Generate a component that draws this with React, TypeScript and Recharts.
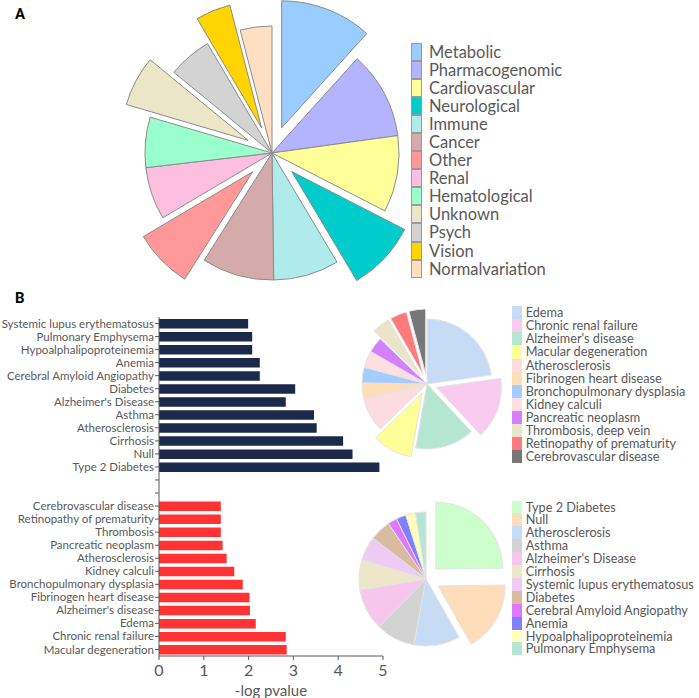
import { Bar, BarChart, Cell, Pie, PieChart, Sector, XAxis, YAxis } from 'recharts';

// Panel A: categories of associated diseases
const catNames = [
  'Metabolic', 'Pharmacogenomic', 'Cardiovascular', 'Neurological', 'Immune', 'Cancer',
  'Other', 'Renal', 'Hematological', 'Unknown', 'Psych', 'Vision', 'Normalvariation',
];
const catValues = [42, 40, 35, 32, 30, 33, 27, 24, 23, 23, 20, 16, 14.5];
const catColors = [
  '#99CCFF', '#B3B3FF', '#FFFF99', '#00CCCC', '#AFEBEB', '#D4AAAA', '#FF9999',
  '#FDBFE0', '#99FFCC', '#ECE6C9', '#D3D3D3', '#FFD400', '#FFDFC2',
];
const catExploded = ['Metabolic', 'Neurological', 'Other', 'Unknown', 'Vision'];

// Panel B: enrichment bars
const topDiseases = [
  'Systemic lupus erythematosus', 'Pulmonary Emphysema', 'Hypoalphalipoproteinemia', 'Anemia',
  'Cerebral Amyloid Angiopathy', 'Diabetes', "Alzheimer's Disease", 'Asthma', 'Atherosclerosis',
  'Cirrhosis', 'Null', 'Type 2 Diabetes',
];
const topValues = [1.99, 2.08, 2.08, 2.25, 2.25, 3.04, 2.83, 3.46, 3.52, 4.11, 4.32, 4.92];
const bottomDiseases = [
  'Cerebrovascular disease', 'Retinopathy of prematurity', 'Thrombosis', 'Pancreatic neoplasm',
  'Atherosclerosis', 'Kidney calculi', 'Bronchopulmonary dysplasia', 'Fibrinogen heart disease',
  "Alzheimer's disease", 'Edema', 'Chronic renal failure', 'Macular degeneration',
];
const bottomValues = [1.38, 1.38, 1.38, 1.42, 1.51, 1.68, 1.87, 2.02, 2.03, 2.16, 2.83, 2.85];
const xTicks = [0, 1, 2, 3, 4, 5];

// Panel B: upper pie
const redNames = [
  'Edema', 'Chronic renal failure', "Alzheimer's disease", 'Macular degeneration',
  'Atherosclerosis', 'Fibrinogen heart disease', 'Bronchopulmonary dysplasia', 'Kidney calculi',
  'Pancreatic neoplasm', 'Thrombosis, deep vein', 'Retinopathy of prematurity',
  'Cerebrovascular disease',
];
const redShares = [82, 55, 53, 36, 31, 14, 14, 15, 14, 16, 15, 15];
const redColors = [
  '#C6DCF5', '#F7CCEF', '#B4E6D2', '#FFFF99', '#FCDCDE', '#FFDDB8', '#A6CCFF', '#FDDFE0',
  '#D580FF', '#EAE4C8', '#FF7B7B', '#777777',
];
const redExploded = [
  'Chronic renal failure', 'Macular degeneration', 'Thrombosis, deep vein',
  'Retinopathy of prematurity', 'Cerebrovascular disease',
];

// Panel B: lower pie
const blueNames = [
  'Type 2 Diabetes', 'Null', 'Atherosclerosis', 'Asthma', "Alzheimer's Disease", 'Cirrhosis',
  'Systemic lupus erythematosus', 'Diabetes', 'Cerebral Amyloid Angiopathy', 'Anemia',
  'Hypoalphalipoproteinemia', 'Pulmonary Emphysema',
];
const blueShares = [89, 61, 40, 34, 36, 26, 21, 18, 8, 8.5, 8.5, 9];
const blueColors = [
  '#CCFFCC', '#FFDDBB', '#C6DCF5', '#D3D3D3', '#F7C6EE', '#EDE6C8', '#ECCBF5', '#D9BBA0',
  '#DD77FF', '#7F7FFF', '#FFFFBB', '#B5E5D5',
];
const blueExploded = ['Type 2 Diabetes', 'Null'];

const textGray = '#595959';
const font = 'Lato, "Open Sans", sans-serif';

const barRows = [
  ...topDiseases.map((name, i) => ({ name, value: topValues[i], color: '#1B2A4A' })),
  { name: ' ', value: null, color: 'none' },
  { name: '  ', value: null, color: 'none' },
  ...bottomDiseases.map((name, i) => ({ name, value: bottomValues[i], color: '#FF3333' })),
];

const toRows = (names: string[], vals: number[]) => names.map((name, i) => ({ name, value: vals[i] }));

const explodedShape = (exploded: string[], dist: number, stroke: string) => (props: any) => {
  const name = props.name ?? props.payload?.name;
  const off = exploded.includes(name) ? dist : 0;
  const rad = (-props.midAngle * Math.PI) / 180;
  return (
    <Sector
      cx={props.cx + off * Math.cos(rad)}
      cy={props.cy + off * Math.sin(rad)}
      innerRadius={props.innerRadius}
      outerRadius={props.outerRadius}
      startAngle={props.startAngle}
      endAngle={props.endAngle}
      fill={props.fill}
      stroke={stroke}
      strokeWidth={1}
    />
  );
};

// single-line category labels (the default tick wraps long names)
const DiseaseTick = ({ x, y, payload }: any) => (
  <text x={x} y={y} dy="0.35em" textAnchor="end" fontSize={11.5} fill={textGray} fontFamily={font}>
    {payload.value}
  </text>
);

const LegendBox = ({ names, colors, left, top, row, box, gap, size, border }: any) => (
  <div style={{ position: 'absolute', left, top, fontFamily: font, fontSize: size, color: textGray }}>
    {names.map((n: string, i: number) => (
      <div key={n} style={{ display: 'flex', alignItems: 'center', height: row, whiteSpace: 'nowrap' }}>
        <span
          style={{
            display: 'inline-block',
            boxSizing: 'border-box',
            width: box,
            height: row,
            background: colors[i],
            border: border ? `1px solid ${border}` : 'none',
            marginRight: gap,
          }}
        />
        <span style={{ lineHeight: `${row}px` }}>{n}</span>
      </div>
    ))}
  </div>
);

const DiseasePie = ({ data, colors, exploded, dist, left, top, cx, cy, r, stroke }: any) => (
  <div style={{ position: 'absolute', left, top }}>
    <PieChart width={2 * cx} height={2 * cy} margin={{ top: 0, right: 0, bottom: 0, left: 0 }}>
      <Pie
        data={data}
        dataKey="value"
        nameKey="name"
        cx={cx}
        cy={cy}
        outerRadius={r}
        startAngle={90}
        endAngle={-270}
        stroke={stroke}
        isAnimationActive={false}
        shape={explodedShape(exploded, dist, stroke)}
        activeShape={explodedShape(exploded, dist, stroke)}
        inactiveShape={explodedShape(exploded, dist, stroke)}
      >
        {data.map((d: any, i: number) => (
          <Cell key={d.name} fill={colors[i]} />
        ))}
      </Pie>
    </PieChart>
  </div>
);

export default function App() {
  return (
    <div
      style={{
        position: 'absolute',
        left: 0,
        top: 0,
        width: 699,
        height: 698,
        background: '#fff',
        fontFamily: font,
        overflow: 'hidden',
      }}
    >
      <div style={{ position: 'absolute', left: 15, top: 5, fontWeight: 700, fontSize: 15, fontFamily: 'Roboto, sans-serif' }}>A</div>
      <div style={{ position: 'absolute', left: 15, top: 289, fontWeight: 700, fontSize: 15, fontFamily: 'Roboto, sans-serif' }}>B</div>

      <DiseasePie
        data={toRows(catNames, catValues)}
        colors={catColors}
        exploded={catExploded}
        dist={27}
        left={0}
        top={0}
        cx={272}
        cy={153}
        r={127}
        stroke="#8c8c8c"
      />
      <LegendBox names={catNames} colors={catColors} left={411} top={42.5} row={18.1} box={11} gap={7} size={16.5} border="#9a9a9a" />

      <div style={{ position: 'absolute', left: 0, top: 310 }}>
        <BarChart
          width={395}
          height={388}
          data={barRows}
          layout="vertical"
          margin={{ top: 7, right: 12, bottom: 0, left: 0 }}
        >
          <XAxis
            type="number"
            domain={[0, 5]}
            ticks={xTicks}
            height={42}
            stroke={textGray}
            tickSize={4}
            tickMargin={5}
            tick={{ fontSize: 16, fill: textGray, fontFamily: font }}
            label={{ value: '-log pvalue', position: 'insideBottom', offset: 2, fontSize: 15, fill: textGray, fontFamily: font }}
          />
          <YAxis
            type="category"
            dataKey="name"
            width={159}
            interval={0}
            stroke={textGray}
            tickSize={4}
            tickMargin={1}
            tick={<DiseaseTick />}
          />
          <Bar dataKey="value" barSize={9.5} isAnimationActive={false}>
            {barRows.map((d, i) => (
              <Cell key={i} fill={d.color} />
            ))}
          </Bar>
        </BarChart>
      </div>

      <DiseasePie
        data={toRows(redNames, redShares)}
        colors={redColors}
        exploded={redExploded}
        dist={10}
        left={426.7 - 80}
        top={384.3 - 80}
        cx={80}
        cy={80}
        r={65}
        stroke="#e4e4e4"
      />
      <LegendBox names={redNames} colors={redColors} left={511.7} top={306.2} row={13.1} box={10} gap={4} size={12.7} />

      <DiseasePie
        data={toRows(blueNames, blueShares)}
        colors={blueColors}
        exploded={blueExploded}
        dist={14}
        left={425.7 - 85}
        top={579.3 - 85}
        cx={85}
        cy={85}
        r={67}
        stroke="#e4e4e4"
      />
      <LegendBox names={blueNames} colors={blueColors} left={511.7} top={500.6} row={12.9} box={10} gap={4} size={12.7} />
    </div>
  );
}
